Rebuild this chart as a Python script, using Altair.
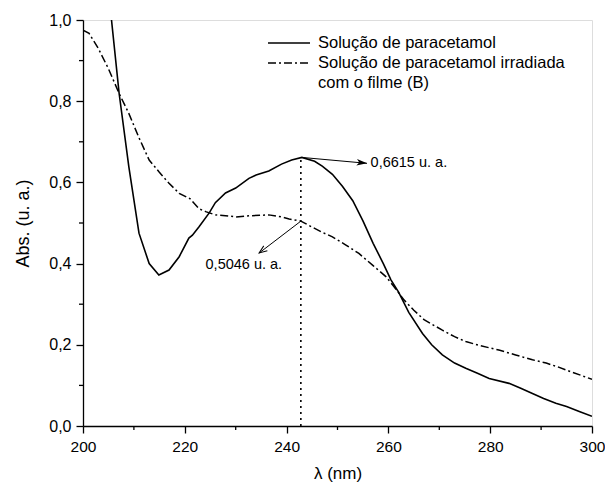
import altair as alt
import pandas as pd

# Solução de paracetamol (solid)
lam_a = [204.8, 205.6, 207.1, 209.0, 211.0, 213.0, 214.9, 216.9, 218.9, 220.8, 221.5, 222.8, 224.8,
         226.0, 228.0, 230.0, 232.6, 234.0, 236.5, 239.0, 241.0, 243.0, 245.5, 247.0, 249.0, 251.0,
         253.0, 255.0, 257.0, 259.0, 260.5, 262.0, 264.0, 266.7, 268.5, 270.6, 273.0, 275.2, 277.5,
         279.8, 283.7, 286.0, 288.3, 290.5, 292.9, 295.0, 297.5, 300.0]
abs_a = [1.10, 1.00, 0.819, 0.639, 0.475, 0.400, 0.372, 0.384, 0.417, 0.463, 0.470, 0.491, 0.525,
         0.550, 0.574, 0.586, 0.610, 0.618, 0.628, 0.645, 0.655, 0.6615, 0.652, 0.640, 0.620, 0.590,
         0.555, 0.505, 0.450, 0.400, 0.360, 0.330, 0.280, 0.228, 0.200, 0.175, 0.155, 0.142, 0.130,
         0.117, 0.105, 0.093, 0.080, 0.068, 0.056, 0.048, 0.036, 0.024]

# Solução de paracetamol irradiada com o filme (B) (dash-dot)
lam_b = [200.0, 201.2, 203.0, 205.0, 207.1, 209.0, 211.0, 213.0, 215.0, 216.9, 218.9, 221.0, 222.8,
         224.1, 226.0, 228.0, 230.0, 233.0, 236.5, 239.0, 240.5, 242.8, 245.0, 247.0, 249.0, 251.5,
         254.2, 257.0, 259.5, 261.0, 263.1, 265.0, 267.0, 270.6, 273.0, 275.2, 278.0, 281.7, 285.0,
         288.3, 291.0, 293.2, 296.0, 300.0]
abs_b = [0.975, 0.967, 0.930, 0.880, 0.819, 0.770, 0.710, 0.655, 0.625, 0.598, 0.573, 0.560, 0.535,
         0.528, 0.520, 0.518, 0.515, 0.518, 0.520, 0.515, 0.510, 0.5046, 0.490, 0.477, 0.466, 0.447,
         0.425, 0.395, 0.368, 0.345, 0.310, 0.285, 0.262, 0.236, 0.220, 0.208, 0.198, 0.187, 0.175,
         0.163, 0.155, 0.146, 0.133, 0.115]

legend_labels = ["Solução de paracetamol", "Solução de paracetamol irradiada", "com o filme (B)"]

peak_lam = 242.8
ann_text = ["0,6615 u. a.", "0,5046 u. a."]
ann_x = [256.5, 231.6]
ann_y = [0.647, 0.397]
arr_x0 = [243.0, 242.8]
arr_y0 = [0.6615, 0.5046]
arr_x1 = [255.8, 234.6]
arr_y1 = [0.647, 0.426]

x_major = [200, 220, 240, 260, 280, 300]
x_minor = [210, 230, 250, 270, 290]
y_major = [0.0, 0.2, 0.4, 0.6, 0.8, 1.0]
y_minor = [0.1, 0.3, 0.5, 0.7, 0.9]

FONT = "Liberation Sans"
W, H = 509, 406

df_a = pd.DataFrame({"lam": lam_a, "abs": abs_a})
df_b = pd.DataFrame({"lam": lam_b, "abs": abs_b})
df_ann = pd.DataFrame({"t": ann_text, "x": ann_x, "y": ann_y})
df_arr = pd.DataFrame({"x0": arr_x0, "y0": arr_y0, "x1": arr_x1, "y1": arr_y1})
df_peak = pd.DataFrame({"x": [peak_lam], "y0": [0.0], "y1": [arr_y0[0]]})

xscale = alt.Scale(domain=[200, 300], nice=False, zero=False)
yscale = alt.Scale(domain=[0, 1.0], nice=False, zero=False)

xaxis = alt.Axis(values=x_major, title="λ (nm)", labelFont=FONT, titleFont=FONT, labelFontSize=15.5,
                 titleFontSize=17, titleFontWeight="normal", tickSize=7, tickWidth=1.3,
                 labelPadding=6, titlePadding=11, domainColor="black", domainWidth=1.3,
                 tickColor="black", labelColor="black", titleColor="black", grid=False,
                 labelFlush=False)
yaxis = alt.Axis(values=y_major, title="Abs. (u. a.)", labelFont=FONT, titleFont=FONT,
                 labelFontSize=16, titleFontSize=18, titleFontWeight="normal", tickSize=7,
                 tickWidth=1.3, labelPadding=5, titlePadding=16, domainColor="black",
                 domainWidth=1.3, tickColor="black", labelColor="black", titleColor="black",
                 grid=False, labelFlush=False,
                 labelExpr="replace(format(datum.value, '.1f'), '.', ',')")

line_a = alt.Chart(df_a).mark_line(color="black", strokeWidth=1.6, clip=True).encode(
    x=alt.X("lam:Q", scale=xscale, axis=xaxis),
    y=alt.Y("abs:Q", scale=yscale, axis=yaxis),
)
line_b = alt.Chart(df_b).mark_line(color="black", strokeWidth=1.5, strokeDash=[8, 3, 2, 3], clip=True).encode(
    x=alt.X("lam:Q"), y=alt.Y("abs:Q")
)

peak_rule = alt.Chart(df_peak).mark_rule(color="black", strokeWidth=1.6, strokeDash=[2, 4]).encode(
    x="x:Q", y="y0:Q", y2="y1:Q"
)

arrows = alt.Chart(df_arr).mark_rule(color="black", strokeWidth=1).encode(
    x="x0:Q", y="y0:Q", x2="x1:Q", y2="y1:Q"
)
head1 = alt.Chart(df_arr.iloc[[0]]).mark_point(
    shape="M0,0 L0.45,1.4 L0,1.05 L-0.45,1.4 Z", filled=True, color="black", size=220, angle=96,
    opacity=1, strokeWidth=0
).encode(x="x1:Q", y="y1:Q")
head2 = alt.Chart(df_arr.iloc[[1]]).mark_point(
    shape="M-0.5,1.3 L0,0 L0.5,1.3", filled=False, color="black", size=150, angle=234,
    opacity=1, strokeWidth=1
).encode(x="x1:Q", y="y1:Q")

ann1 = alt.Chart(df_ann.iloc[[0]]).mark_text(font=FONT, fontSize=14.5, color="black", align="left",
                                             baseline="middle").encode(x="x:Q", y="y:Q", text="t:N")
ann2 = alt.Chart(df_ann.iloc[[1]]).mark_text(font=FONT, fontSize=14.5, color="black", align="center",
                                             baseline="middle").encode(x="x:Q", y="y:Q", text="t:N")

xminor = alt.Chart(pd.DataFrame({"v": x_minor})).mark_rule(color="black", strokeWidth=1.3).encode(
    x="v:Q", y=alt.value(H), y2=alt.value(H + 4)
)
yminor = alt.Chart(pd.DataFrame({"v": y_minor})).mark_rule(color="black", strokeWidth=1.3).encode(
    y="v:Q", x=alt.value(0), x2=alt.value(-4)
)

# manual legend
leg_a = alt.Chart(pd.DataFrame({"k": [0]})).mark_rule(color="black", strokeWidth=1.6).encode(
    x=alt.value(185), x2=alt.value(227), y=alt.value(23)
)
leg_b = alt.Chart(pd.DataFrame({"k": [0]})).mark_rule(color="black", strokeWidth=1.5,
                                                      strokeDash=[8, 3, 2, 3]).encode(
    x=alt.value(185), x2=alt.value(227), y=alt.value(43)
)
leg_t1 = alt.Chart(pd.DataFrame({"t": [legend_labels[0]]})).mark_text(
    font=FONT, fontSize=16.5, color="black", align="left", baseline="middle").encode(
    x=alt.value(235), y=alt.value(23), text="t:N")
leg_t2 = alt.Chart(pd.DataFrame({"t": [legend_labels[1]]})).mark_text(
    font=FONT, fontSize=16.5, color="black", align="left", baseline="middle").encode(
    x=alt.value(235), y=alt.value(43), text="t:N")
leg_t3 = alt.Chart(pd.DataFrame({"t": [legend_labels[2]]})).mark_text(
    font=FONT, fontSize=16.5, color="black", align="left", baseline="middle").encode(
    x=alt.value(235), y=alt.value(63), text="t:N")

chart = alt.layer(
    line_a, line_b, peak_rule, arrows, head1, head2, ann1, ann2, xminor, yminor,
    leg_a, leg_b, leg_t1, leg_t2, leg_t3
).properties(
    width=W, height=H,
    autosize=alt.AutoSizeParams(type="none"),
    padding={"left": 83, "top": 20, "right": 13, "bottom": 58},
).configure_view(stroke="black", strokeWidth=1.3).configure(background="white")

chart.save("out.html", embed_options={"renderer": "svg", "actions": False})
